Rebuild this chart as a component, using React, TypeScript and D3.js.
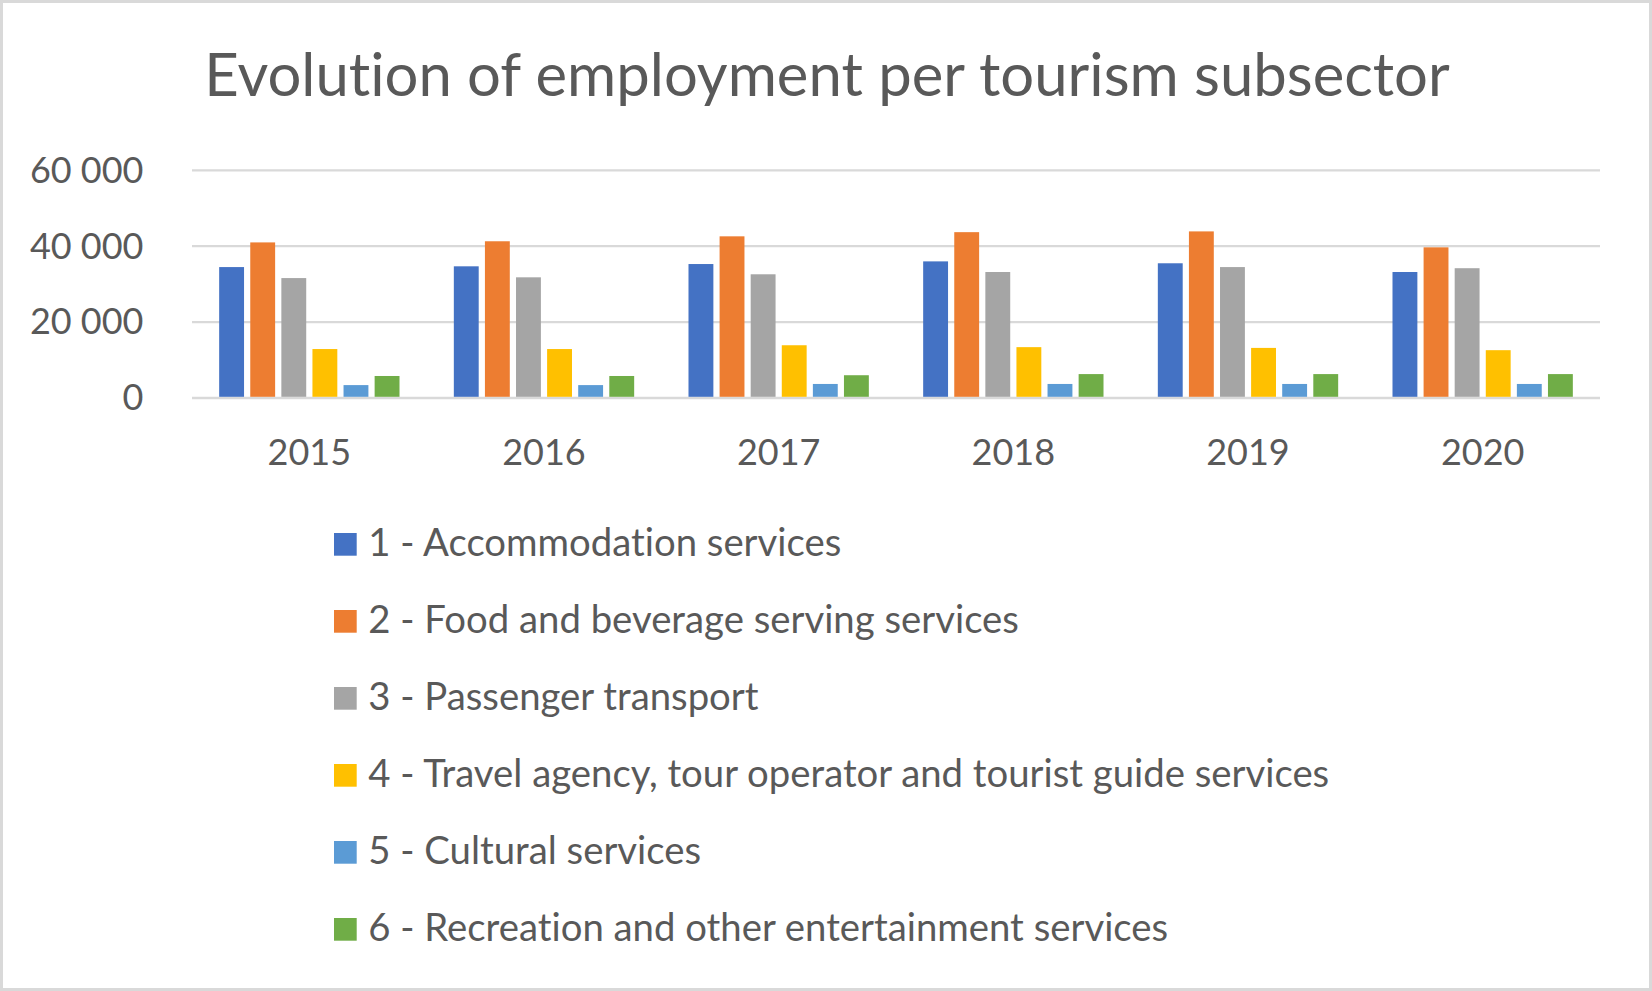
import React, { useEffect } from "react";
import * as d3 from "d3";

const years = ["2015", "2016", "2017", "2018", "2019", "2020"];

const seriesNames = [
  "1 - Accommodation services",
  "2 - Food and beverage serving services",
  "3 - Passenger transport",
  "4 - Travel agency, tour operator and tourist guide services",
  "5 - Cultural services",
  "6 - Recreation and other entertainment services",
];

const accommodation = [34500, 34700, 35300, 36000, 35500, 33200];
const foodBeverage = [41000, 41300, 42600, 43700, 43900, 39700];
const passengerTransport = [31600, 31800, 32600, 33200, 34500, 34200];
const travelAgency = [12900, 12900, 13900, 13400, 13200, 12600];
const cultural = [3400, 3400, 3700, 3700, 3700, 3700];
const recreation = [5800, 5800, 6000, 6300, 6300, 6300];

const yTicks = [0, 20000, 40000, 60000];

const colors = ["#4472C4", "#ED7D31", "#A5A5A5", "#FFC000", "#5B9BD5", "#70AD47"];

const W = 1652;
const H = 991;
const textColor = "#595959";
const font = "Lato, 'Open Sans', sans-serif";
const noLig = { fontVariantLigatures: "none" } as React.CSSProperties;

const App: React.FC = () => {
  useEffect(() => {
    document.body.style.margin = "0";
  }, []);

  const values = [accommodation, foodBeverage, passengerTransport, travelAgency, cultural, recreation];

  const x0 = d3.scaleBand<string>().domain(years).range([192, 1600]).paddingInner(0.205).paddingOuter(0.1025);
  const x1 = d3
    .scaleBand<string>()
    .domain(seriesNames)
    .range([0, x0.bandwidth()])
    .paddingInner(0.2)
    .paddingOuter(0.1);
  const y = d3.scaleLinear().domain([0, 60000]).range([398, 170.3]);

  // thousands separated by a space, as in the original
  const fmt = (v: number) => d3.format(",")(v).replace(/,/g, " ");

  const legendY = d3.scaleLinear().domain([0, 1]).range([533, 610]);

  return (
    <svg width={W} height={H} style={{ display: "block", position: "absolute", left: 0, top: 0 }}>
      <rect x={1.5} y={1.5} width={W - 3} height={H - 3} fill="#fff" stroke="#d9d9d9" strokeWidth={3} />

      <text x={827} y={96} textAnchor="middle" fontFamily={font} fontSize={59.8} fill={textColor} style={noLig}>
        Evolution of employment per tourism subsector
      </text>

      {yTicks.map((t) => (
        <g key={t}>
          <line x1={192} x2={1600} y1={y(t)} y2={y(t)} stroke="#d9d9d9" strokeWidth={2.3} />
          <text x={143.5} y={y(t) + 12.3} textAnchor="end" fontFamily={font} fontSize={36} fill={textColor}>
            {fmt(t)}
          </text>
        </g>
      ))}

      {years.map((yr, i) => (
        <g key={yr} transform={`translate(${x0(yr)},0)`}>
          {seriesNames.map((s, j) => (
            <rect
              key={s}
              x={x1(s)}
              y={y(values[j][i])}
              width={x1.bandwidth()}
              height={y(0) - y(values[j][i]) - 1.2}
              fill={colors[j]}
            />
          ))}
        </g>
      ))}

      {years.map((yr) => (
        <text
          key={yr}
          x={(x0(yr) ?? 0) + x0.bandwidth() / 2}
          y={464.5}
          textAnchor="middle"
          fontFamily={font}
          fontSize={36}
          fill={textColor}
        >
          {yr}
        </text>
      ))}

      {seriesNames.map((s, j) => (
        <g key={s} transform={`translate(334,${legendY(j)})`}>
          <rect width={22.7} height={22.7} fill={colors[j]} />
          <text x={34.3} y={22.5} fontFamily={font} fontSize={38.3} fill={textColor} style={noLig}>
            {s}
          </text>
        </g>
      ))}
    </svg>
  );
};

export default App;
